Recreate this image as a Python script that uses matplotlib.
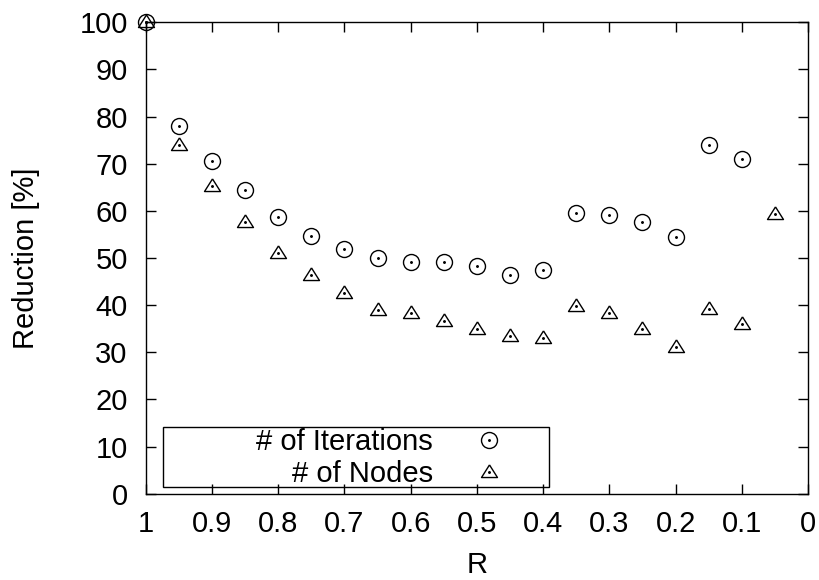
import matplotlib
matplotlib.use("Agg")
import matplotlib.pyplot as plt
from matplotlib.patches import Rectangle
from matplotlib.legend_handler import HandlerTuple

plt.rcParams['font.family'] = ['Liberation Sans', 'DejaVu Sans']

# data
r = [1.0, 0.95, 0.9, 0.85, 0.8, 0.75, 0.7, 0.65, 0.6, 0.55, 0.5,
     0.45, 0.4, 0.35, 0.3, 0.25, 0.2, 0.15, 0.1, 0.05]
iterations = [100, 78.0, 70.5, 64.5, 58.7, 54.6, 52.0, 50.0, 49.1, 49.1, 48.2,
              46.4, 47.4, 59.6, 59.1, 57.6, 54.4, 74.0, 70.9, None]
nodes = [100, 74.0, 65.2, 57.6, 51.1, 46.4, 42.5, 38.9, 38.4, 36.7, 35.0,
         33.4, 33.0, 39.9, 38.4, 35.0, 31.2, 39.1, 36.1, 59.4]
x_ticks = [1, 0.9, 0.8, 0.7, 0.6, 0.5, 0.4, 0.3, 0.2, 0.1, 0]
x_tick_labels = ['1', '0.9', '0.8', '0.7', '0.6', '0.5', '0.4', '0.3', '0.2', '0.1', '0']
y_ticks = list(range(0, 101, 10))

it_r = [a for a, b in zip(r, iterations) if b is not None]
it_v = [b for b in iterations if b is not None]

# gnuplot-like triangle, data point sits below the apex
tri = [(0, 0.95), (-1, -0.63), (1, -0.63), (0, 0.95)]

fs = 21

fig = plt.figure(figsize=(8.2, 5.8), dpi=100)
ax = fig.add_axes([0.1777, 0.1488, 0.8077, 0.8128])

h_it, = ax.plot(it_r, it_v, ls='none', marker='o', ms=11.5, mfc='none',
                mec='black', mew=1.0, clip_on=False, zorder=3)
h_nd, = ax.plot(r, nodes, ls='none', marker=tri, ms=11.5, mfc='none',
                mec='black', mew=1.0, clip_on=False, zorder=3)
h_d1, = ax.plot(it_r, it_v, ls='none', marker='o', ms=1.1, color='black',
                clip_on=False, zorder=4)
h_d2, = ax.plot(r, nodes, ls='none', marker='o', ms=1.1, color='black',
                clip_on=False, zorder=4)

ax.set_xlim(1, 0)
ax.set_ylim(0, 100)
ax.set_xticks(x_ticks)
ax.set_xticklabels(x_tick_labels)
ax.set_yticks(y_ticks)
ax.tick_params(direction='in', length=7, width=1.0, labelsize=fs,
               top=True, right=True)
ax.tick_params(axis='x', pad=12)
ax.tick_params(axis='y', pad=13)
for s in ax.spines.values():
    s.set_linewidth(1.0)

ax.set_xlabel('R', fontsize=fs, labelpad=9)
ax.set_ylabel('Reduction [%]', fontsize=fs, labelpad=28)

ax.add_patch(Rectangle((0.0266, 0.0136), 0.5824, 0.1273, transform=ax.transAxes,
                       fill=False, lw=1.0, ec='black', zorder=5))
leg = ax.legend([(h_it, h_d1), (h_nd, h_d2)], ['# of Iterations', '# of Nodes'],
                handler_map={tuple: HandlerTuple(ndivide=1)},
                loc='center right', bbox_to_anchor=(0.5624, 0.0757),
                frameon=False, markerfirst=False, numpoints=1, fontsize=fs,
                handlelength=2.0, handletextpad=0.93, labelspacing=0.15,
                borderpad=0, borderaxespad=0)

fig.savefig('out.png', dpi=100)
